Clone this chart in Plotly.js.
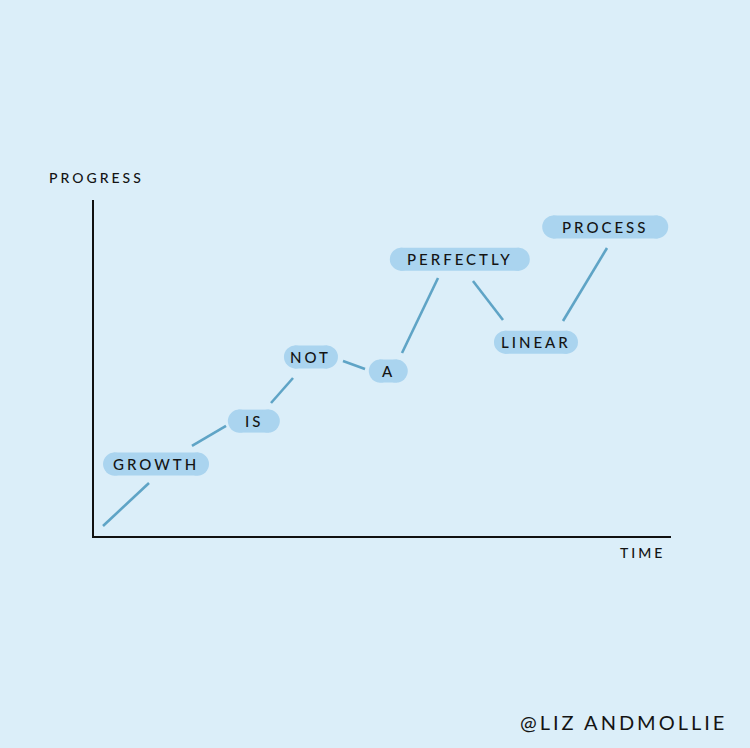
<!DOCTYPE html>
<html>
<head>
<meta charset="utf-8">
<script src="https://cdn.plot.ly/plotly-3.0.1.min.js"></script>
<style>
  html, body { margin: 0; padding: 0; background: #dbeef9; }
  #chart { width: 750px; height: 748px; }
  .annotation-text { letter-spacing: 3px; }
</style>
</head>
<body>
<div id="chart"></div>
<script>
// ---- data (time / progress on a 0–100 scale) ----
const words    = ["GROWTH", "IS", "NOT", "A", "PERFECTLY", "LINEAR", "PROCESS"];
const wordTime = [10.75, 27.7, 37.6, 51.0, 63.4, 76.6, 88.6];
const wordProg = [21.4, 34.2, 53.3, 49.1, 82.4, 57.7, 92.0];

// connecting segments between the words
const segStartTime = [1.56, 16.98, 30.68, 43.15, 53.38, 65.68, 81.28];
const segStartProg = [2.98, 26.79, 39.58, 52.08, 54.46, 75.89, 63.99];
const segEndTime   = [9.53, 22.88, 34.49, 46.97, 59.62, 70.88, 88.91];
const segEndProg   = [15.77, 32.74, 47.02, 49.70, 76.79, 64.29, 85.71];

const axisLabels = { x: "TIME", y: "PROGRESS" };
const credit = "@LIZ ANDMOLLIE";

// ---- styles ----
const bg = "#dbeef9";
const pillColor = "#aad4ef";
const segColor = "#5fa4c6";
const inkColor = "#141414";
const pillWidthPx = [106, 52, 54, 39, 140, 84, 126];
const pillHeightPx = 23;
const fontFam = "Lato, 'Open Sans', sans-serif";

// build segment trace
const segX = [], segY = [];
for (let i = 0; i < segStartTime.length; i++) {
  segX.push(segStartTime[i], segEndTime[i], null);
  segY.push(segStartProg[i], segEndProg[i], null);
}
const traces = [{
  type: "scatter", mode: "lines", x: segX, y: segY,
  line: { color: segColor, width: 2.6 }, hoverinfo: "skip", showlegend: false,
  cliponaxis: false
}];

// pills as shapes (rect + two end circles), anchored at the word positions
const shapes = [];
words.forEach((w, i) => {
  const hw = pillWidthPx[i] / 2, hh = pillHeightPx / 2;
  const base = {
    xref: "x", yref: "y", xsizemode: "pixel", ysizemode: "pixel",
    xanchor: wordTime[i], yanchor: wordProg[i],
    fillcolor: pillColor, line: { width: 0 }, layer: "below"
  };
  shapes.push(Object.assign({}, base, { type: "rect", x0: -hw + hh - 1, x1: hw - hh + 1, y0: -hh, y1: hh }));
  shapes.push(Object.assign({}, base, { type: "circle", x0: -hw, x1: -hw + 2 * hh, y0: -hh, y1: hh }));
  shapes.push(Object.assign({}, base, { type: "circle", x0: hw - 2 * hh, x1: hw, y0: -hh, y1: hh }));
});

const annotations = words.map((w, i) => ({
  text: w, x: wordTime[i], y: wordProg[i], xref: "x", yref: "y",
  showarrow: false, xanchor: "center", yanchor: "middle",
  font: { family: fontFam, size: 15, color: inkColor, weight: 500 }
}));
annotations.push({
  text: axisLabels.y, xref: "paper", yref: "paper", x: 0.005, y: 1.068,
  showarrow: false, xanchor: "center", yanchor: "middle",
  font: { family: fontFam, size: 14, color: inkColor, weight: 500 }
});
annotations.push({
  text: axisLabels.x, xref: "paper", yref: "paper", x: 0.951, y: -0.05,
  showarrow: false, xanchor: "center", yanchor: "middle",
  font: { family: fontFam, size: 14, color: inkColor, weight: 500 }
});
annotations.push({
  text: credit, xref: "paper", yref: "paper", x: 0.917, y: -0.554,
  showarrow: false, xanchor: "center", yanchor: "middle",
  font: { family: fontFam, size: 20, color: inkColor, weight: 400 }
});

const axisCommon = {
  showgrid: false, zeroline: false, showticklabels: false, ticks: "",
  showline: true, linecolor: "#111111", linewidth: 2, fixedrange: true
};

const layout = {
  width: 750, height: 748,
  margin: { l: 94, r: 79, t: 200, b: 212, pad: 0 },
  paper_bgcolor: bg, plot_bgcolor: bg,
  xaxis: Object.assign({ range: [0, 100] }, axisCommon),
  yaxis: Object.assign({ range: [0, 100] }, axisCommon),
  shapes: shapes, annotations: annotations, showlegend: false
};

Plotly.newPlot("chart", traces, layout, { displayModeBar: false, staticPlot: true });
</script>
</body>
</html>
